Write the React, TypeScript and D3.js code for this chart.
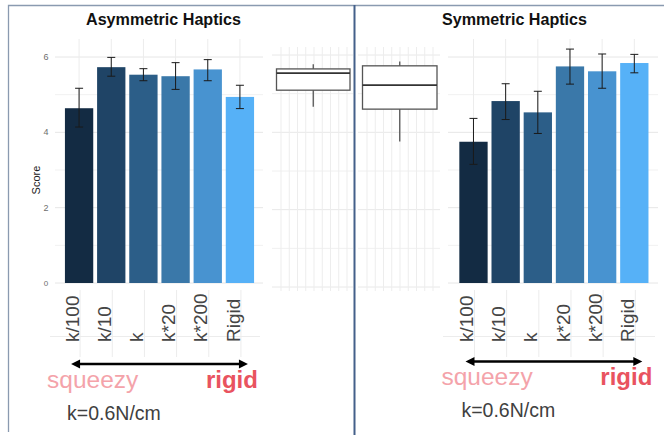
import React, { useEffect, useRef } from "react";
import * as d3 from "d3";

const categories = ["k/100", "k/10", "k", "k*20", "k*200", "Rigid"];
const barColors = ["#132b43", "#1f4466", "#2c5e88", "#3a78a9", "#4893d0", "#56b1f7"];

const asymMean = [4.64, 5.73, 5.53, 5.49, 5.67, 4.94];
const asymLow = [4.14, 5.49, 5.37, 5.14, 5.37, 4.63];
const asymHigh = [5.17, 5.99, 5.69, 5.85, 5.93, 5.25];

const symMean = [3.75, 4.83, 4.53, 5.75, 5.62, 5.84];
const symLow = [3.15, 4.34, 3.97, 5.28, 5.17, 5.58];
const symHigh = [4.37, 5.29, 5.09, 6.21, 6.08, 6.07];

// min, q1, median, q3, max
const asymBox = [4.66, 5.09, 5.53, 5.64, 5.76];
const symBox = [3.76, 4.6, 5.22, 5.72, 5.83];

const yTicks = [0, 2, 4, 6];
const gridValues = [0, 1, 2, 3, 4, 5, 6];

const W = 664;
const H = 435;
const FONT = "'Liberation Sans', Arial, sans-serif";

const App = () => {
  const svgRef = useRef<SVGSVGElement>(null);

  useEffect(() => {
    const svg = d3.select(svgRef.current);
    svg.selectAll("*").remove();

    svg.append("rect").attr("width", W).attr("height", H).attr("fill", "#fff");

    const y = d3.scaleLinear().domain([0, 6]).range([283, 57]);
    const yBox = d3.scaleLinear().domain([0, 6]).range([287, 55]);

    // Bar panel
    const drawBars = (
      x0: number,
      x1: number,
      gx0: number,
      gx1: number,
      mean: number[],
      low: number[],
      high: number[],
      title: string,
      titleX: number,
      titleW: number,
      showAxis: boolean,
      arrowY: number,
      textY: number
    ) => {
      const x = d3.scaleBand().domain(categories).range([x0, x1]).paddingInner(0.12).paddingOuter(0.06);
      const g = svg.append("g");

      // grid
      gridValues.forEach((v) => {
        g.append("line")
          .attr("x1", gx0).attr("x2", gx1)
          .attr("y1", y(v)).attr("y2", y(v))
          .attr("stroke", v % 2 === 0 ? "#e6e6e6" : "#f1f1f1")
          .attr("stroke-width", 1);
      });
      categories.forEach((c) => {
        const cx = x(c)! + x.bandwidth() / 2;
        g.append("line")
          .attr("x1", cx).attr("x2", cx)
          .attr("y1", 39).attr("y2", 283)
          .attr("stroke", "#ececec");
        g.append("line")
          .attr("x1", cx + 1).attr("x2", cx + 1)
          .attr("y1", 290).attr("y2", 357)
          .attr("stroke", "#ececec");
      });
      g.append("line")
        .attr("x1", gx0 - 5).attr("x2", gx1 - 3)
        .attr("y1", 336.5).attr("y2", 336.5)
        .attr("stroke", "#ececec");

      // bars
      g.selectAll("rect.bar")
        .data(mean)
        .enter()
        .append("rect")
        .attr("x", (_, i) => x(categories[i])!)
        .attr("width", x.bandwidth())
        .attr("y", (d) => y(d))
        .attr("height", (d) => y(0) - y(d))
        .attr("fill", (_, i) => barColors[i]);

      // error bars
      mean.forEach((_, i) => {
        const cx = x(categories[i])! + x.bandwidth() / 2;
        const ey = g.append("g").attr("stroke", "#1a1a1a").attr("stroke-width", 1);
        ey.append("line").attr("x1", cx).attr("x2", cx).attr("y1", y(high[i])).attr("y2", y(low[i]));
        ey.append("line").attr("x1", cx - 4).attr("x2", cx + 4).attr("y1", y(high[i])).attr("y2", y(high[i]));
        ey.append("line").attr("x1", cx - 4).attr("x2", cx + 4).attr("y1", y(low[i])).attr("y2", y(low[i]));
      });

      // x labels
      categories.forEach((c) => {
        const cx = x(c)! + x.bandwidth() / 2 - 7;
        g.append("text")
          .attr("transform", `translate(${cx},342) rotate(-90)`)
          .attr("dy", "0.35em")
          .attr("font-family", FONT)
          .attr("font-size", 19)
          .attr("fill", "#454545")
          .text(c);
      });

      if (showAxis) {
        yTicks.forEach((t) => {
          g.append("text")
            .attr("x", 46).attr("y", y(t))
            .attr("dy", "0.35em")
            .attr("text-anchor", "middle")
            .attr("font-family", FONT)
            .attr("font-size", t === 0 ? 8 : 9)
            .attr("fill", "#6e6e6e")
            .text(t);
        });
        g.append("text")
          .attr("transform", `translate(36.5,${y(3) + 10}) rotate(-90)`)
          .attr("dy", "0.35em")
          .attr("text-anchor", "middle")
          .attr("font-family", FONT)
          .attr("font-size", 11)
          .attr("fill", "#222")
          .text("Score");
      }

      // title
      svg.append("text")
        .attr("x", titleX).attr("y", 25)
        .attr("font-family", FONT)
        .attr("font-weight", "bold")
        .attr("font-size", 17)
        .attr("textLength", titleW)
        .attr("lengthAdjust", "spacingAndGlyphs")
        .attr("fill", "#111")
        .text(title);

      // arrow
      const first = x(categories[0])! + x.bandwidth() / 2 - 8;
      const last = x(categories[categories.length - 1])! + x.bandwidth() / 2 + 8;
      g.append("line")
        .attr("x1", first + 6).attr("x2", last - 6)
        .attr("y1", arrowY).attr("y2", arrowY)
        .attr("stroke", "#000").attr("stroke-width", 2.5);
      const head = (tip: number, dir: number) =>
        g.append("path")
          .attr("d", `M${tip},${arrowY} L${tip + dir * 9},${arrowY - 4.5} L${tip + dir * 9},${arrowY + 4.5} Z`)
          .attr("fill", "#000");
      head(first, 1);
      head(last, -1);

      g.append("text")
        .attr("x", first - 24).attr("y", textY)
        .attr("font-family", FONT)
        .attr("font-size", 24.5)
        .attr("fill", "#f4a3aa")
        .text("squeezy");
      g.append("text")
        .attr("x", last + 10).attr("y", textY)
        .attr("text-anchor", "end")
        .attr("font-family", FONT)
        .attr("font-weight", "bold")
        .attr("font-size", 24)
        .attr("fill", "#e9535f")
        .text("rigid");
      g.append("text")
        .attr("x", first - 4).attr("y", textY + 32)
        .attr("font-family", FONT)
        .attr("font-size", 19.5)
        .attr("fill", "#404040")
        .text("k=0.6N/cm");
    };

    // Box panel
    const drawBox = (px0: number, px1: number, bx0: number, bx1: number, box: number[]) => {
      const g = svg.append("g");
      const lines = d3.range(9).map((i) => px0 + 9 + i * 8.25);
      gridValues.forEach((v) => {
        g.append("line")
          .attr("x1", px0).attr("x2", px1)
          .attr("y1", yBox(v)).attr("y2", yBox(v))
          .attr("stroke", v % 2 === 0 ? "#e8e8e8" : "#f0f0f0");
      });
      lines.forEach((lx) => {
        g.append("line")
          .attr("x1", lx).attr("x2", lx)
          .attr("y1", 47).attr("y2", 291)
          .attr("stroke", "#ededed");
      });
      const [mn, q1, med, q3, mx] = box;
      const cx = (bx0 + bx1) / 2;
      const s = g.append("g").attr("stroke", "#555").attr("stroke-width", 1.3).attr("fill", "#fff");
      s.append("line").attr("x1", cx).attr("x2", cx).attr("y1", yBox(mx)).attr("y2", yBox(mn));
      s.append("rect")
        .attr("x", bx0).attr("width", bx1 - bx0)
        .attr("y", yBox(q3)).attr("height", yBox(q1) - yBox(q3));
      s.append("line")
        .attr("x1", bx0).attr("x2", bx1)
        .attr("y1", yBox(med)).attr("y2", yBox(med))
        .attr("stroke", "#333").attr("stroke-width", 1.8);
    };

    drawBars(63, 256, 55, 263, asymMean, asymLow, asymHigh, "Asymmetric Haptics", 86, 155, true, 364, 388);
    drawBox(272, 353, 276.5, 350, asymBox);
    drawBox(358, 440, 362.5, 437, symBox);
    drawBars(457.4, 650.4, 448, 658, symMean, symLow, symHigh, "Symmetric Haptics", 442, 145, false, 361.5, 385);

    // frame
    svg.append("path")
      .attr("d", `M8.5,432 L8.5,5.5 L${W},5.5`)
      .attr("fill", "none")
      .attr("stroke", "#8a9ab0")
      .attr("stroke-width", 1.3);
    svg.append("line")
      .attr("x1", 354.5).attr("x2", 354.5)
      .attr("y1", 5).attr("y2", H)
      .attr("stroke", "#44608a")
      .attr("stroke-width", 2);
  }, []);

  return (
    <svg
      ref={svgRef}
      width={W}
      height={H}
      style={{ position: "absolute", left: 0, top: 0, display: "block" }}
    />
  );
};

export default App;
